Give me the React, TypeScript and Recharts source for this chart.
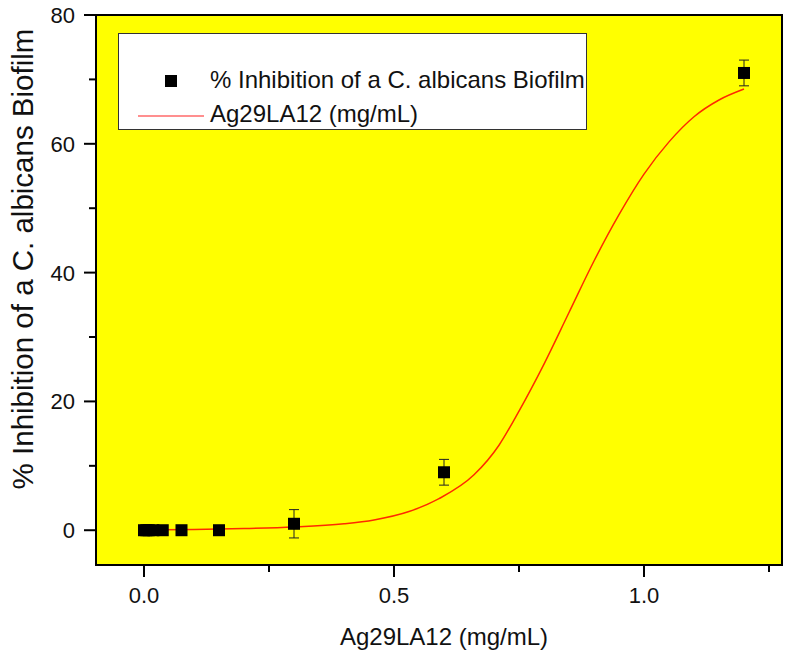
import React from 'react';
import { ComposedChart, Line, Scatter, ErrorBar, XAxis, YAxis, CartesianGrid, ReferenceArea } from 'recharts';

// concentrations (mg/mL), two-fold dilutions
const conc = [0, 0.0047, 0.0094, 0.0188, 0.0375, 0.075, 0.15, 0.3, 0.6, 1.2];
const inhibition = [0, 0, 0, 0, 0, 0, 0, 1, 9, 71];
const inhibitionErr = [0, 0, 0, 0, 0, 0, 0, 2.2, 2, 2];

// fitted curve
const fitX = [0, 0.1, 0.2, 0.3, 0.4, 0.46, 0.53, 0.59, 0.66, 0.71, 0.75, 0.8, 0.85, 0.9, 0.95, 1.0, 1.05, 1.1, 1.15, 1.2];
const fitY = [0.05, 0.1, 0.25, 0.5, 1.0, 1.6, 2.9, 4.9, 8.6, 13.2, 18.5, 25.8, 33.8, 41.8, 49, 55.3, 60.3, 64.2, 66.8, 68.5];

const xTicks = [0, 0.25, 0.5, 0.75, 1.0, 1.25];
const xLabels = [0, 0.5, 1.0];
const yTicks = [0, 10, 20, 30, 40, 50, 60, 70, 80];
const yLabels = [0, 20, 40, 60, 80];

const points = conc.map((x, i) => ({ x, y: inhibition[i], err: inhibitionErr[i] }));
const curve = fitX.map((x, i) => ({ x, y: fitY[i] }));

const FONT = '"Liberation Sans", Arial, sans-serif';
const X_DOMAIN: [number, number] = [-0.096, 1.276];
const Y_DOMAIN: [number, number] = [-5.4, 80];

const XTick = (props: any) => {
  const { x, y, payload } = props;
  const major = xLabels.includes(payload.value);
  return (
    <g>
      <line x1={x} x2={x} y1={y} y2={y + (major ? 12 : 7)} stroke="#000" strokeWidth={2} />
      {major && (
        <text x={x} y={y + 38} textAnchor="middle" fontSize={22} fontFamily={FONT} fill="#111">
          {payload.value.toFixed(1)}
        </text>
      )}
    </g>
  );
};

const YTick = (props: any) => {
  const { x, y, payload } = props;
  const major = yLabels.includes(payload.value);
  return (
    <g>
      <line x1={x - (major ? 12 : 7)} x2={x} y1={y} y2={y} stroke="#000" strokeWidth={2} />
      {major && (
        <text x={x - 21} y={y + 8} textAnchor="end" fontSize={22} fontFamily={FONT} fill="#111">
          {payload.value}
        </text>
      )}
    </g>
  );
};

const Square = (props: any) => (
  <rect x={props.cx - 6} y={props.cy - 6} width={12} height={12} fill="#000" />
);

const App: React.FC = () => {
  return (
    <div style={{ position: 'absolute', left: 0, top: 0, width: 800, height: 657, background: '#fff' }}>
      <ComposedChart width={800} height={657} margin={{ top: 15, right: 18, bottom: 0, left: 0 }}>
        <CartesianGrid fill="#ffff00" horizontal={false} vertical={false} />
        <XAxis
          dataKey="x"
          type="number"
          domain={X_DOMAIN}
          allowDataOverflow
          ticks={xTicks}
          tick={<XTick />}
          tickLine={false}
          tickSize={0}
          tickMargin={0}
          height={92}
          axisLine={{ stroke: '#000', strokeWidth: 2 }}
          label={() => (
            <text x={444} y={645} textAnchor="middle" fontSize={24} fontFamily={FONT} fill="#111">
              Ag29LA12 (mg/mL)
            </text>
          )}
        />
        <YAxis
          type="number"
          domain={Y_DOMAIN}
          allowDataOverflow
          ticks={yTicks}
          tick={<YTick />}
          tickLine={false}
          tickSize={0}
          tickMargin={0}
          width={96}
          axisLine={{ stroke: '#000', strokeWidth: 2 }}
          label={() => (
            <text x={33} y={259} transform="rotate(-90 33 259)" textAnchor="middle" fontSize={29.5} fontFamily={FONT} fill="#111">
              % Inhibition of a C. albicans Biofilm
            </text>
          )}
        />
        <ReferenceArea x1={X_DOMAIN[0]} x2={X_DOMAIN[1]} y1={Y_DOMAIN[0]} y2={Y_DOMAIN[1]} fill="none" stroke="#000" strokeWidth={2} fillOpacity={0} />
        <Line data={curve} dataKey="y" type="monotone" stroke="#ff2a00" strokeWidth={1.5} dot={false} isAnimationActive={false} />
        <Scatter data={points} dataKey="y" shape={<Square />} isAnimationActive={false}>
          <ErrorBar dataKey="err" direction="y" width={5} stroke="#222" strokeWidth={1} />
        </Scatter>
      </ComposedChart>
      <div
        style={{
          position: 'absolute',
          left: 118,
          top: 33,
          width: 467,
          height: 95,
          background: '#fff',
          border: '1px solid #333',
          overflow: 'hidden',
          fontFamily: FONT,
          fontSize: 24,
          color: '#111',
        }}
      >
        <svg width={90} height={95} style={{ position: 'absolute', left: 0, top: 0 }}>
          <rect x={46} y={41} width={12} height={12} fill="#000" />
          <line x1={19} x2={85} y1={82} y2={82} stroke="#ff6a6a" strokeWidth={1.5} />
        </svg>
        <div style={{ position: 'absolute', left: 91, top: 32, whiteSpace: 'nowrap', lineHeight: '28px' }}>
          % Inhibition of a C. albicans Biofilm
        </div>
        <div style={{ position: 'absolute', left: 91, top: 66, whiteSpace: 'nowrap', lineHeight: '28px' }}>
          Ag29LA12 (mg/mL)
        </div>
      </div>
    </div>
  );
};

export default App;
